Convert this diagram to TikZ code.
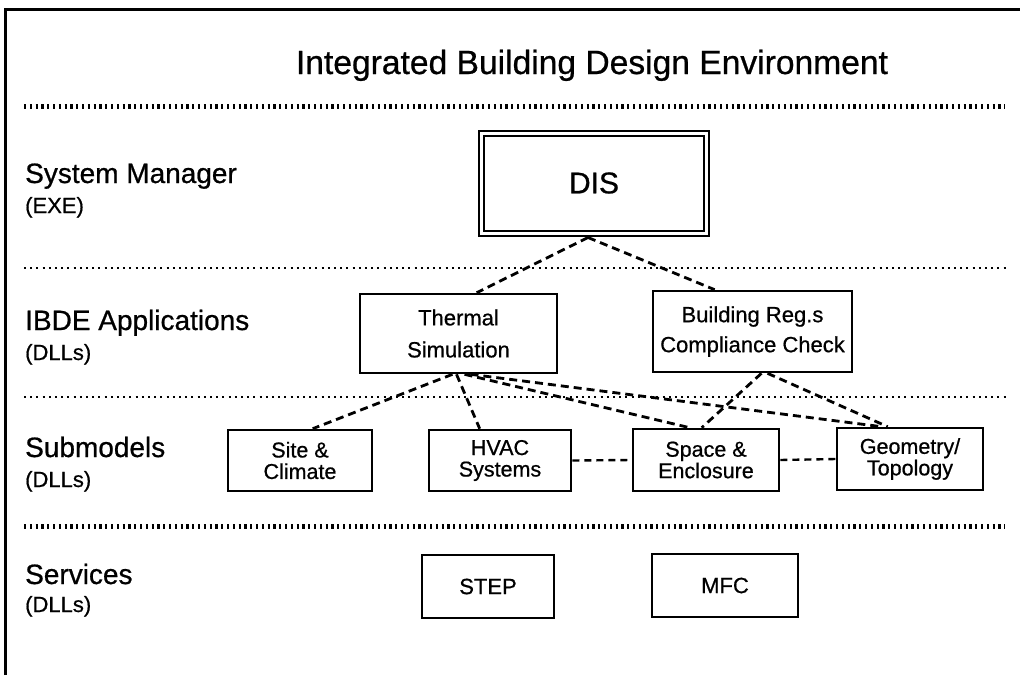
\documentclass[tikz,border=0pt]{standalone}
\usepackage{fontspec}
\setmainfont[FakeBold=0.7]{Liberation Sans}
\usetikzlibrary{calc}

\begin{document}
\begin{tikzpicture}[x=1pt,y=-1pt,
  box/.style={draw, line width=2.6pt, rectangle, inner sep=0pt, align=center},
  dblbox/.style={draw, double, double distance=3pt, line width=2pt, rectangle, inner sep=0pt, align=center},
  conn/.style={line width=2.8pt, dash pattern=on 8pt off 5pt},
  hconn/.style={line width=2.4pt, dash pattern=on 7pt off 5pt},
  tickline/.style={line width=5pt, dash pattern=on 2.2pt off 3.6pt},
  dotline/.style={line width=2pt, dash pattern=on 2pt off 4.2pt},
  lab/.style={anchor=base west, inner sep=0pt, font=\fontsize{28}{30}\selectfont},
  sublab/.style={anchor=base west, inner sep=0pt, font=\fontsize{22}{24}\selectfont},
  apptext/.style={font=\fontsize{22}{32}\selectfont},
  subtext/.style={font=\fontsize{21.5}{21.5}\selectfont},
  svctext/.style={font=\fontsize{22}{24}\selectfont}]

\useasboundingbox[fill=white] (0,0) rectangle (1020,675);

% frame edges
\draw[line width=3pt] (5,675) -- (5,9) -- (1020,9);

% title
\node[anchor=base, inner sep=0pt, font=\fontsize{33.6}{36}\selectfont] (title) at (592,74)
  {Integrated Building Design Environment};

% layer separators
\draw[tickline] (24,106) -- (1005,106);
\draw[dotline]  (24,268) -- (1008,268);
\draw[dotline]  (24,397) -- (1008,397);
\draw[tickline] (24,526) -- (1005,526);

% layer labels
\node[lab]    (lsys)  at (25,183) {System Manager};
\node[sublab] (lsysb) at (25,213) {(EXE)};
\node[lab]    (lapp)  at (25,330) {IBDE Applications};
\node[sublab] (lappb) at (25,360) {(DLLs)};
\node[lab]    (lsub)  at (25,457) {Submodels};
\node[sublab] (lsubb) at (25,487) {(DLLs)};
\node[lab]    (lsvc)  at (25,584) {Services};
\node[sublab] (lsvcb) at (25,612) {(DLLs)};

% system manager
\node[dblbox, minimum width=225pt, minimum height=100pt,
      font=\fontsize{30}{32}\selectfont] (dis) at (594,183) {DIS};

% applications
\node[box, apptext, minimum width=197pt, minimum height=79pt] (thermal) at (458.5,333.5)
  {Thermal\\Simulation};
\node[box, font=\fontsize{22}{30}\selectfont, minimum width=199pt, minimum height=81pt] (bregs) at (752.5,331.5)
  {Building Reg.s\\Compliance Check};

% submodels
\node[box, subtext, minimum width=144pt, minimum height=61pt] (site)  at (300,460.5) {Site \&\\Climate};
\node[box, subtext, minimum width=142pt, minimum height=61pt] (hvac)  at (500,460.5) {HVAC\\Systems};
\node[box, subtext, minimum width=146pt, minimum height=62pt] (space) at (706,460)   {Space \&\\Enclosure};
\node[box, subtext, minimum width=146pt, minimum height=62pt] (geom)  at (910,459)   {Geometry/\\Topology};

% services
\node[box, svctext, minimum width=132pt, minimum height=63pt] (step) at (488,586.5) {STEP};
\node[box, svctext, minimum width=146pt, minimum height=63pt] (mfc)  at (725,585.5) {MFC};

% dependencies
\draw[conn] ($(dis.south)+(-6,3.5)$) -- ($(thermal.north west)+(118,0)$);
\draw[conn] ($(dis.south)+(-6,3.5)$) -- ($(bregs.north west)+(63,0)$);
\draw[conn] ($(thermal.south)+(-6,0)$) -- ($(site.north west)+(86,0)$);
\draw[conn] ($(thermal.south)+(-2,0)$) -- ($(hvac.north west)+(52,0)$);
\draw[conn] ($(thermal.south)+(6,0)$)  -- ($(space.north west)+(58,0)$);
\draw[conn] ($(thermal.south)+(12,0)$) -- ($(geom.north west)+(46,0)$);
\draw[conn] ($(bregs.south)+(9,0)$)    -- ($(space.north west)+(70,0)$);
\draw[conn] ($(bregs.south)+(15,0)$)   -- ($(geom.north west)+(52,0)$);
\draw[hconn] (hvac.east) -- (space.west);
\draw[hconn] (space.east) -- (geom.west);

\end{tikzpicture}
\end{document}
